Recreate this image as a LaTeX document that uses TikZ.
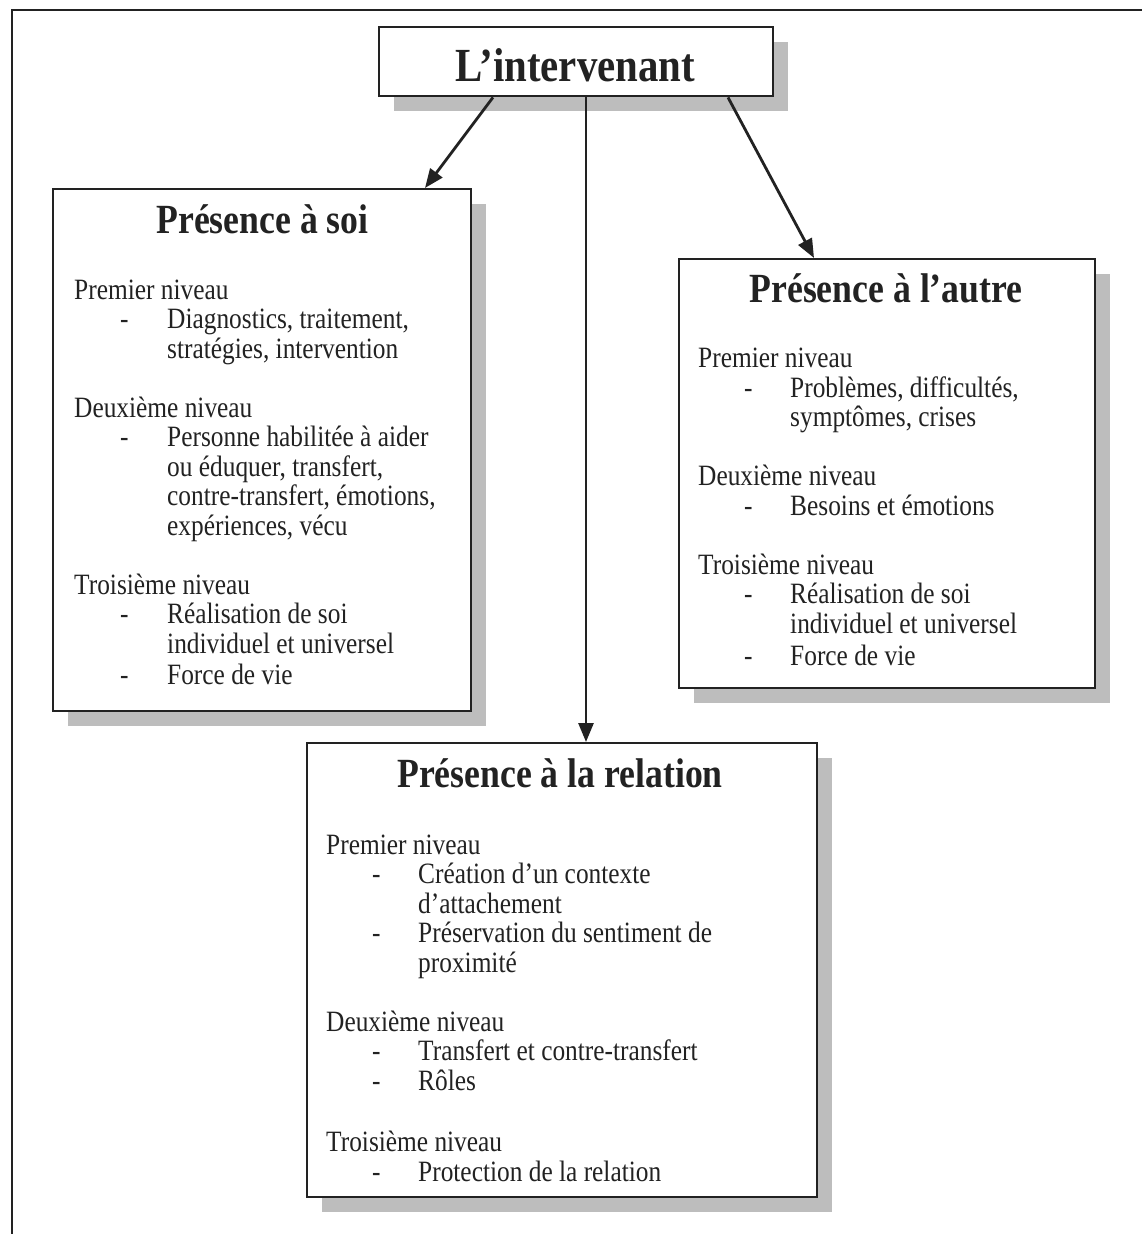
\documentclass[tikz,border=0pt]{standalone}
\usepackage{fontspec}
\setmainfont{Liberation Serif}[FakeStretch=0.86]
\usetikzlibrary{arrows.meta,shadows}

\definecolor{ink}{HTML}{222222}
\definecolor{shade}{HTML}{BDBDBD}

\begin{document}
\begin{tikzpicture}[x=1pt,y=-1pt,
  panel/.style={draw=ink, line width=2.4pt, fill=white, inner sep=0pt,
    anchor=north west,
    general shadow={fill=shade, shadow xshift=15pt, shadow yshift=-15pt}},
  heading/.style={anchor=base, inner sep=0pt, text=ink,
    font=\fontsize{41.5}{48}\selectfont\bfseries},
  bigheading/.style={anchor=base, inner sep=0pt, text=ink,
    font=\fontsize{47.5}{54}\selectfont\bfseries},
  bodytext/.style={anchor=base west, inner sep=0pt, text=ink,
    font=\fontsize{29.5}{34}\selectfont},
  link/.style={draw=ink, line width=2.8pt,
    -{Triangle[length=19pt,width=15pt]}},
  frame/.style={draw=ink, line width=2pt}
]
\newcommand\txtline[4]{\node[bodytext] (#1) at (#2,#3) {#4};}

\useasboundingbox (0,0) rectangle (1142,1234);

% page frame (top and left rules)
\draw[frame] (12,1234) -- (12,10) -- (1142,10);

% boxes
\node[panel, minimum width=394pt, minimum height=69pt] (interv) at (378,26) {};
\node[panel, minimum width=418pt, minimum height=522pt] (soi) at (52,188) {};
\node[panel, minimum width=416pt, minimum height=429pt] (autre) at (678,258) {};
\node[panel, minimum width=510pt, minimum height=454pt] (rel) at (306,742) {};

% titles
\node[bigheading] (tinterv) at (575.5,81) {L’intervenant};
\node[heading] (tsoi) at (262.5,233) {Présence à soi};
\node[heading] (tautre) at (886,302) {Présence à l’autre};
\node[heading] (trel) at (560,787) {Présence à la relation};

% Présence à soi
\txtline{s1}{74}{299}{Premier niveau}
\txtline{s1d}{120}{328.5}{-}
\txtline{s2}{167}{328.5}{Diagnostics, traitement,}
\txtline{s3}{167}{358}{stratégies, intervention}
\txtline{s4}{74}{417}{Deuxième niveau}
\txtline{s4d}{120}{446.5}{-}
\txtline{s5}{167}{446.5}{Personne habilitée à aider}
\txtline{s6}{167}{476}{ou éduquer, transfert,}
\txtline{s7}{167}{505.5}{contre-transfert, émotions,}
\txtline{s8}{167}{535}{expériences, vécu}
\txtline{s9}{74}{594}{Troisième niveau}
\txtline{s9d}{120}{623.5}{-}
\txtline{s10}{167}{623.5}{Réalisation de soi}
\txtline{s11}{167}{653}{individuel et universel}
\txtline{s12d}{120}{684}{-}
\txtline{s12}{167}{684}{Force de vie}

% Présence à l'autre
\txtline{a1}{698}{367}{Premier niveau}
\txtline{a1d}{744}{397}{-}
\txtline{a2}{790}{397}{Problèmes, difficultés,}
\txtline{a3}{790}{426}{symptômes, crises}
\txtline{a4}{698}{485.5}{Deuxième niveau}
\txtline{a4d}{744}{515}{-}
\txtline{a5}{790}{515}{Besoins et émotions}
\txtline{a6}{698}{574}{Troisième niveau}
\txtline{a6d}{744}{603.5}{-}
\txtline{a7}{790}{603.5}{Réalisation de soi}
\txtline{a8}{790}{633}{individuel et universel}
\txtline{a9d}{744}{665}{-}
\txtline{a9}{790}{665}{Force de vie}

% Présence à la relation
\txtline{r1}{326}{854}{Premier niveau}
\txtline{r1d}{372}{883.5}{-}
\txtline{r2}{418}{883.5}{Création d’un contexte}
\txtline{r3}{418}{913}{d’attachement}
\txtline{r4d}{372}{942.5}{-}
\txtline{r4}{418}{942.5}{Préservation du sentiment de}
\txtline{r5}{418}{972}{proximité}
\txtline{r6}{326}{1031}{Deuxième niveau}
\txtline{r6d}{372}{1060.5}{-}
\txtline{r7}{418}{1060.5}{Transfert et contre-transfert}
\txtline{r8d}{372}{1090}{-}
\txtline{r8}{418}{1090}{Rôles}
\txtline{r9}{326}{1151}{Troisième niveau}
\txtline{r9d}{372}{1181}{-}
\txtline{r10}{418}{1181}{Protection de la relation}

% connectors
\draw[link] ([xshift=115pt]interv.south west) -- ([xshift=373pt]soi.north west);
\draw[link] ([xshift=208pt]interv.south west) -- ([xshift=280pt]rel.north west);
\draw[link] ([xshift=350pt]interv.south west) -- ([xshift=136pt]autre.north west);
\end{tikzpicture}
\end{document}
